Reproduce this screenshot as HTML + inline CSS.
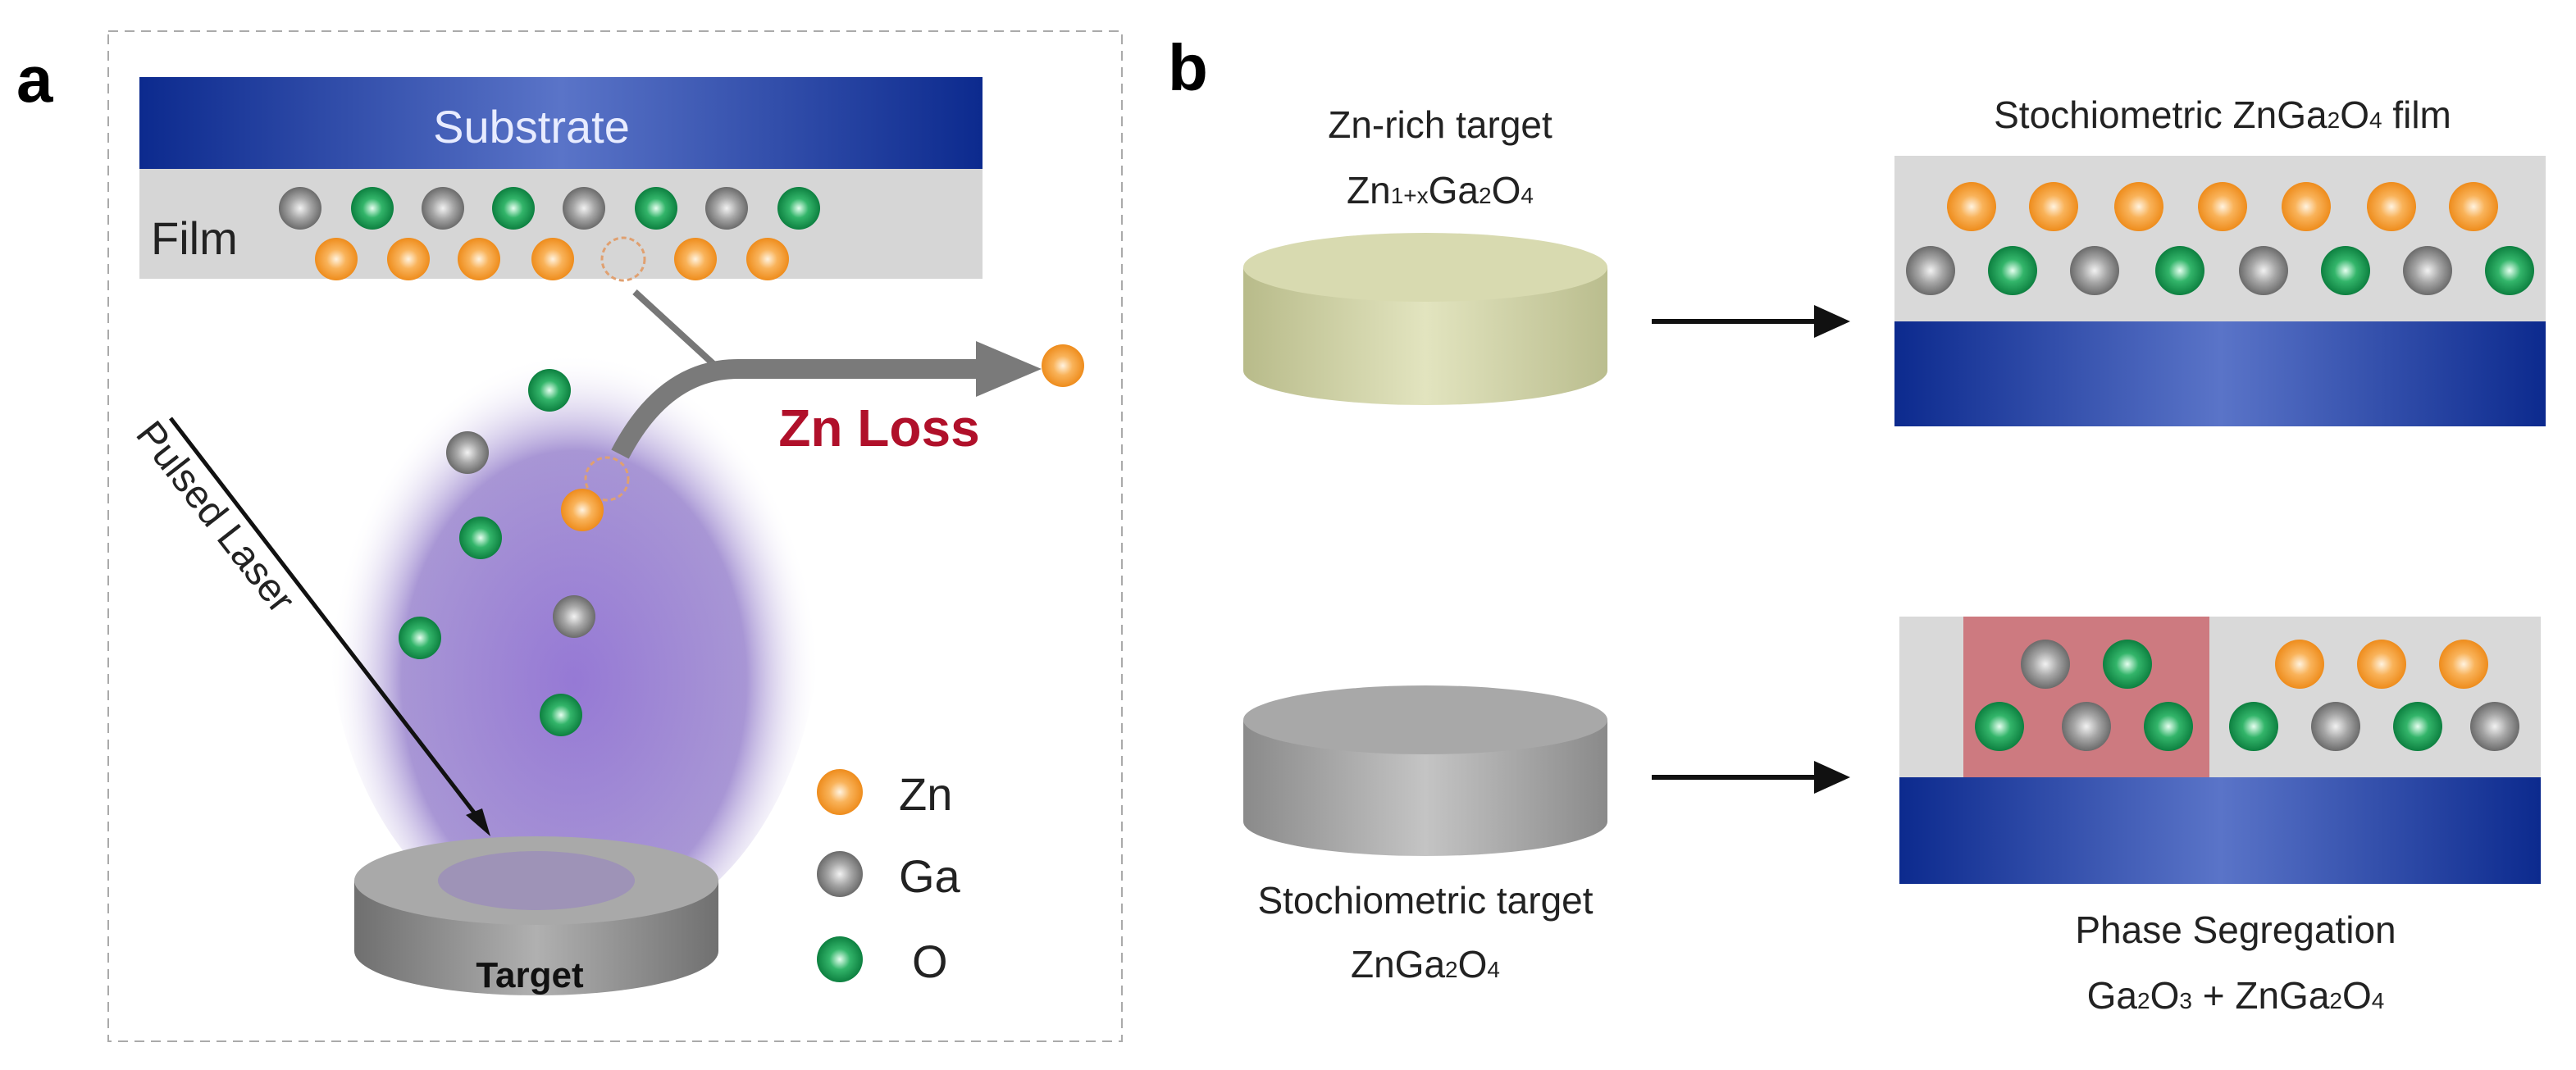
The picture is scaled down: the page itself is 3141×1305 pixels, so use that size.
<!DOCTYPE html>
<html><head><meta charset="utf-8"><style>
html,body{margin:0;padding:0;background:#fff;overflow:hidden}
svg{display:block}
text{font-family:"Liberation Sans",sans-serif}
</style></head><body>
<svg width="3141" height="1305" viewBox="0 0 1570.5 652.5" xmlns="http://www.w3.org/2000/svg">
<defs>
<radialGradient id="zn" cx="50%" cy="50%" r="50%"><stop offset="0" stop-color="#fff3e0"/><stop offset="0.45" stop-color="#f9b35a"/><stop offset="1" stop-color="#ee8c1c"/></radialGradient>
<radialGradient id="ga" cx="50%" cy="50%" r="50%"><stop offset="0" stop-color="#f2f2f2"/><stop offset="0.5" stop-color="#a6a6a6"/><stop offset="1" stop-color="#6b6b6b"/></radialGradient>
<radialGradient id="o" cx="50%" cy="50%" r="50%"><stop offset="0" stop-color="#e6fff0"/><stop offset="0.45" stop-color="#33b56a"/><stop offset="1" stop-color="#0d8040"/></radialGradient>
<radialGradient id="plume" cx="50%" cy="60%" r="50%"><stop offset="0" stop-color="#8a6ad0"/><stop offset="0.7" stop-color="#9e8ad0"/><stop offset="1" stop-color="#ffffff" stop-opacity="0"/></radialGradient>
<linearGradient id="sub" x1="0" x2="1"><stop offset="0" stop-color="#0c2a8e"/><stop offset="0.5" stop-color="#5a74c8"/><stop offset="1" stop-color="#0c2a8e"/></linearGradient>
<linearGradient id="cylg" x1="0" x2="1"><stop offset="0" stop-color="#6f6f6f"/><stop offset="0.5" stop-color="#b0b0b0"/><stop offset="1" stop-color="#707070"/></linearGradient>
<linearGradient id="cylgr" x1="0" x2="1"><stop offset="0" stop-color="#8a8a8a"/><stop offset="0.5" stop-color="#c4c4c4"/><stop offset="1" stop-color="#8a8a8a"/></linearGradient>
<linearGradient id="cyly" x1="0" x2="1"><stop offset="0" stop-color="#b8bb8a"/><stop offset="0.5" stop-color="#e2e4bf"/><stop offset="1" stop-color="#babd8e"/></linearGradient>
</defs>

<!-- panel a -->
<text x="10" y="62" font-size="40" font-weight="bold">a</text>
<rect x="66" y="19" width="618" height="616" fill="none" stroke="#aaa" stroke-width="1" stroke-dasharray="6,4"/>
<rect x="85" y="102" width="514" height="68" fill="#d6d6d6"/>
<rect x="85" y="47" width="514" height="56" fill="url(#sub)"/>
<text x="324" y="87" font-size="28" fill="#e8ecff" text-anchor="middle">Substrate</text>
<text x="92" y="155" font-size="28" fill="#222">Film</text>
<g>
<circle cx="183" cy="127" r="13" fill="url(#ga)"/><circle cx="227" cy="127" r="13" fill="url(#o)"/>
<circle cx="270" cy="127" r="13" fill="url(#ga)"/><circle cx="313" cy="127" r="13" fill="url(#o)"/>
<circle cx="356" cy="127" r="13" fill="url(#ga)"/><circle cx="400" cy="127" r="13" fill="url(#o)"/>
<circle cx="443" cy="127" r="13" fill="url(#ga)"/><circle cx="487" cy="127" r="13" fill="url(#o)"/>
<circle cx="205" cy="158" r="13" fill="url(#zn)"/><circle cx="249" cy="158" r="13" fill="url(#zn)"/>
<circle cx="292" cy="158" r="13" fill="url(#zn)"/><circle cx="337" cy="158" r="13" fill="url(#zn)"/>
<circle cx="380" cy="158" r="13" fill="none" stroke="#e0a070" stroke-width="1.5" stroke-dasharray="3,2"/>
<circle cx="424" cy="158" r="13" fill="url(#zn)"/><circle cx="468" cy="158" r="13" fill="url(#zn)"/>
</g>
<ellipse cx="350" cy="375" rx="150" ry="200" fill="url(#plume)" opacity="0.9"/>
<path d="M387 178 L435 222" stroke="#777" stroke-width="4" fill="none"/>
<path d="M378 277 Q405 225 450 225 L600 225" stroke="#7a7a7a" stroke-width="12" fill="none"/>
<polygon points="595,208 635,225 595,242" fill="#7a7a7a"/>
<circle cx="648" cy="223" r="13" fill="url(#zn)"/>
<text x="536" y="272" font-size="32" font-weight="bold" fill="#b0102a" text-anchor="middle">Zn Loss</text>
<circle cx="370" cy="292" r="13" fill="none" stroke="#e0a070" stroke-width="1.5" stroke-dasharray="3,2"/>
<circle cx="335" cy="238" r="13" fill="url(#o)"/>
<circle cx="285" cy="276" r="13" fill="url(#ga)"/>
<circle cx="293" cy="328" r="13" fill="url(#o)"/>
<circle cx="355" cy="311" r="13" fill="url(#zn)"/>
<circle cx="350" cy="376" r="13" fill="url(#ga)"/>
<circle cx="256" cy="389" r="13" fill="url(#o)"/>
<circle cx="342" cy="436" r="13" fill="url(#o)"/>
<!-- target -->
<path d="M216 537 L216 580 A111 27 0 0 0 438 580 L438 537 Z" fill="url(#cylg)"/>
<ellipse cx="327" cy="537" rx="111" ry="27" fill="#a9a9a9"/>
<ellipse cx="327" cy="537" rx="60" ry="18" fill="#8a6ad0" opacity="0.35"/>
<text x="323" y="602" font-size="22" font-weight="bold" fill="#111" text-anchor="middle">Target</text>
<!-- laser -->
<line x1="104" y1="255" x2="294" y2="502" stroke="#111" stroke-width="2.5"/>
<polygon points="299,510 284,497 294,493" fill="#111"/>
<text x="0" y="0" font-size="24" fill="#222" transform="translate(82,265) rotate(52)">Pulsed Laser</text>
<!-- legend -->
<circle cx="512" cy="483" r="14" fill="url(#zn)"/><text x="548" y="494" font-size="28" fill="#222">Zn</text>
<circle cx="512" cy="533" r="14" fill="url(#ga)"/><text x="548" y="544" font-size="28" fill="#222">Ga</text>
<circle cx="512" cy="585" r="14" fill="url(#o)"/><text x="556" y="596" font-size="28" fill="#222">O</text>

<!-- panel b -->
<text x="712" y="55" font-size="40" font-weight="bold">b</text>
<text x="878" y="84" font-size="23" fill="#222" text-anchor="middle">Zn-rich target</text>
<text x="878" y="124" font-size="23" fill="#222" text-anchor="middle">Zn<tspan font-size="14">1+x</tspan>Ga<tspan font-size="14">2</tspan>O<tspan font-size="14">4</tspan></text>
<path d="M758 163 L758 226 A111 21 0 0 0 980 226 L980 163 Z" fill="url(#cyly)"/>
<ellipse cx="869" cy="163" rx="111" ry="21" fill="#d8dab0"/>
<line x1="1007" y1="196" x2="1108" y2="196" stroke="#111" stroke-width="3"/>
<polygon points="1106,186 1128,196 1106,206" fill="#111"/>
<text x="1355" y="78" font-size="23" fill="#222" text-anchor="middle">Stochiometric ZnGa<tspan font-size="14">2</tspan>O<tspan font-size="14">4</tspan> film</text>
<rect x="1155" y="95" width="397" height="101" fill="#d9d9d9"/>
<rect x="1155" y="196" width="397" height="64" fill="url(#sub)"/>
<g>
<circle cx="1202" cy="126" r="15" fill="url(#zn)"/><circle cx="1252" cy="126" r="15" fill="url(#zn)"/><circle cx="1304" cy="126" r="15" fill="url(#zn)"/><circle cx="1355" cy="126" r="15" fill="url(#zn)"/><circle cx="1406" cy="126" r="15" fill="url(#zn)"/><circle cx="1458" cy="126" r="15" fill="url(#zn)"/><circle cx="1508" cy="126" r="15" fill="url(#zn)"/>
<circle cx="1177" cy="165" r="15" fill="url(#ga)"/><circle cx="1227" cy="165" r="15" fill="url(#o)"/><circle cx="1277" cy="165" r="15" fill="url(#ga)"/><circle cx="1329" cy="165" r="15" fill="url(#o)"/><circle cx="1380" cy="165" r="15" fill="url(#ga)"/><circle cx="1430" cy="165" r="15" fill="url(#o)"/><circle cx="1480" cy="165" r="15" fill="url(#ga)"/><circle cx="1530" cy="165" r="15" fill="url(#o)"/>
</g>
<path d="M758 439 L758 501 A111 21 0 0 0 980 501 L980 439 Z" fill="url(#cylgr)"/>
<ellipse cx="869" cy="439" rx="111" ry="21" fill="#a8a8a8"/>
<text x="869" y="557" font-size="23" fill="#222" text-anchor="middle">Stochiometric target</text>
<text x="869" y="596" font-size="23" fill="#222" text-anchor="middle">ZnGa<tspan font-size="14">2</tspan>O<tspan font-size="14">4</tspan></text>
<line x1="1007" y1="474" x2="1108" y2="474" stroke="#111" stroke-width="3"/>
<polygon points="1106,464 1128,474 1106,484" fill="#111"/>
<rect x="1158" y="376" width="391" height="98" fill="#d9d9d9"/>
<rect x="1197" y="376" width="150" height="98" fill="#cd7a80"/>
<rect x="1158" y="474" width="391" height="65" fill="url(#sub)"/>
<g>
<circle cx="1247" cy="405" r="15" fill="url(#ga)"/><circle cx="1297" cy="405" r="15" fill="url(#o)"/>
<circle cx="1402" cy="405" r="15" fill="url(#zn)"/><circle cx="1452" cy="405" r="15" fill="url(#zn)"/><circle cx="1502" cy="405" r="15" fill="url(#zn)"/>
<circle cx="1219" cy="443" r="15" fill="url(#o)"/><circle cx="1272" cy="443" r="15" fill="url(#ga)"/><circle cx="1322" cy="443" r="15" fill="url(#o)"/>
<circle cx="1374" cy="443" r="15" fill="url(#o)"/><circle cx="1424" cy="443" r="15" fill="url(#ga)"/><circle cx="1474" cy="443" r="15" fill="url(#o)"/><circle cx="1521" cy="443" r="15" fill="url(#ga)"/>
</g>
<text x="1363" y="575" font-size="23" fill="#222" text-anchor="middle">Phase Segregation</text>
<text x="1363" y="615" font-size="23" fill="#222" text-anchor="middle">Ga<tspan font-size="14">2</tspan>O<tspan font-size="14">3</tspan> + ZnGa<tspan font-size="14">2</tspan>O<tspan font-size="14">4</tspan></text>
</svg>
</body></html>
